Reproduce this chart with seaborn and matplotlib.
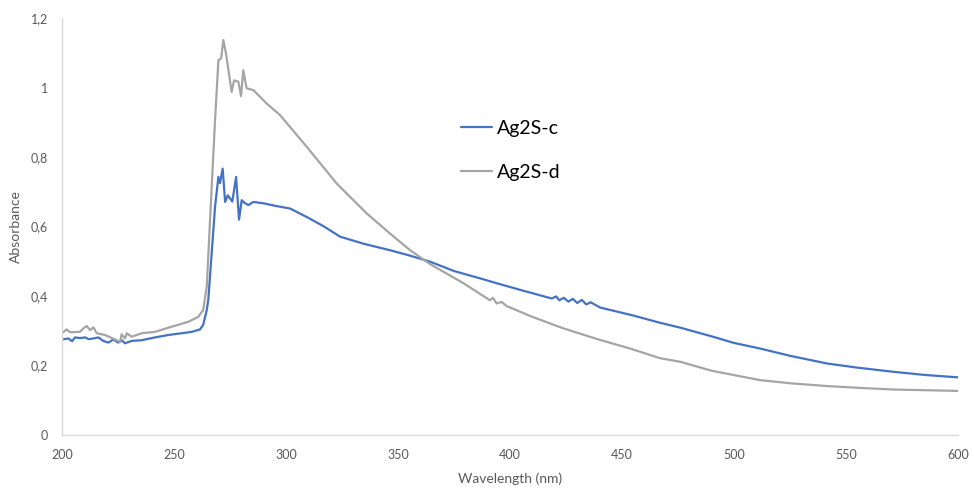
import matplotlib
matplotlib.use("Agg")
import matplotlib.pyplot as plt
import seaborn as sns
import pandas as pd
from matplotlib.ticker import FuncFormatter, MultipleLocator

# Ag2S-c (blue)
wl_c = [200, 202.8, 204.5, 205.8, 208, 210.3, 212, 214, 216.2, 218.4, 220.7, 222.9,
        225.1, 226.6, 228.1, 231.1, 235.6, 241.5, 247.5, 253.4, 257.9, 261.6, 263,
        264.6, 265.3, 266.8, 268.3, 269.8, 270.5, 271.7, 272.8, 274, 276, 277.7, 279,
        280.2, 281.5, 283.2, 285.4, 290, 295, 301.8, 310, 317, 324.1, 335, 346.4, 355,
        364.3, 375, 386.6, 394, 405, 418.6, 420.5, 422, 424, 426, 428, 430, 432, 434,
        436, 440.2, 455, 467, 476, 490, 500, 511.6, 525, 541.4, 555, 571.1, 585, 600]
abs_c = [0.275, 0.278, 0.270, 0.281, 0.279, 0.281, 0.276, 0.278, 0.281, 0.271, 0.266,
         0.275, 0.266, 0.273, 0.264, 0.271, 0.273, 0.281, 0.288, 0.293, 0.297, 0.304,
         0.317, 0.36, 0.39, 0.524, 0.657, 0.743, 0.725, 0.767, 0.671, 0.69, 0.672,
         0.743, 0.62, 0.676, 0.668, 0.662, 0.671, 0.667, 0.66, 0.652, 0.625, 0.6,
         0.571, 0.55, 0.532, 0.517, 0.499, 0.472, 0.451, 0.437, 0.417, 0.393, 0.399,
         0.388, 0.395, 0.384, 0.392, 0.380, 0.389, 0.376, 0.382, 0.367, 0.344, 0.323,
         0.309, 0.284, 0.265, 0.249, 0.228, 0.206, 0.194, 0.182, 0.173, 0.166]

# Ag2S-d (grey)
wl_d = [200, 202, 203.6, 208, 209.5, 211, 212.5, 214, 215.5, 219.2, 223.7, 225.9,
        226.6, 228.1, 228.9, 231.1, 235.6, 241.5, 249, 256.4, 260.8, 263, 264.6,
        266.8, 268.3, 269.8, 271, 272, 273.2, 275.7, 276.8, 278.7, 279.9, 280.9,
        282.4, 285.4, 291.4, 297.3, 309.2, 322.6, 336, 346.4, 355.4, 364.3, 379.2,
        391, 392.3, 394, 396.3, 398.5, 410, 423.8, 440, 453.6, 467, 475.9, 490,
        511.6, 525, 541.4, 555, 571.1, 585, 600]
abs_d = [0.293, 0.304, 0.296, 0.297, 0.307, 0.314, 0.302, 0.310, 0.293, 0.288, 0.275,
         0.268, 0.290, 0.278, 0.293, 0.283, 0.293, 0.297, 0.312, 0.326, 0.340, 0.360,
         0.427, 0.714, 0.906, 1.079, 1.084, 1.137, 1.098, 0.988, 1.021, 1.017, 0.976,
         1.050, 0.998, 0.993, 0.954, 0.921, 0.830, 0.724, 0.638, 0.580, 0.532, 0.492,
         0.437, 0.388, 0.395, 0.379, 0.383, 0.371, 0.340, 0.307, 0.274, 0.249, 0.221,
         0.211, 0.185, 0.158, 0.149, 0.141, 0.136, 0.131, 0.129, 0.127]

series_names = ["Ag2S-c", "Ag2S-d"]

df = pd.concat([
    pd.DataFrame({"wl": wl_c, "abs": abs_c, "sample": series_names[0]}),
    pd.DataFrame({"wl": wl_d, "abs": abs_d, "sample": series_names[1]}),
])

sns.set_style("white")
plt.rcParams["font.family"] = ["Lato", "DejaVu Sans"]

fig = plt.figure(figsize=(9.74, 4.91), dpi=100)
ax = fig.add_axes([0.0637, 0.114, 0.92, 0.849])

sns.lineplot(data=df, x="wl", y="abs", hue="sample", sort=False, estimator=None,
             palette={"Ag2S-c": "#4472C4", "Ag2S-d": "#A5A5A5"}, linewidth=1.6, ax=ax)

ax.set_xlim(200, 600)
ax.set_ylim(0, 1.2)
ax.xaxis.set_major_locator(MultipleLocator(50))
ax.yaxis.set_major_locator(MultipleLocator(0.2))
ax.yaxis.set_major_formatter(FuncFormatter(lambda v, p: f"{v:.1f}".rstrip("0").rstrip(".").replace(".", ",")))

for s in ["top", "right"]:
    ax.spines[s].set_visible(False)
for s in ["left", "bottom"]:
    ax.spines[s].set_color("#D9D9D9")
    ax.spines[s].set_linewidth(1)

ax.tick_params(axis="both", length=0, labelsize=9, labelcolor="#595959")
ax.tick_params(axis="y", pad=10)
ax.tick_params(axis="x", pad=10)

ax.set_xlabel("Wavelength (nm)", fontsize=10, color="#595959", labelpad=8)
ax.set_ylabel("Absorbance", fontsize=10, color="#595959", labelpad=6)

leg = ax.legend(loc="upper left", bbox_to_anchor=(0.426, 0.798), frameon=False,
                fontsize=14, handlelength=1.6, handletextpad=0.25, labelspacing=1.4)
for t in leg.get_texts():
    t.set_color("black")

fig.savefig("out.png", dpi=100)
